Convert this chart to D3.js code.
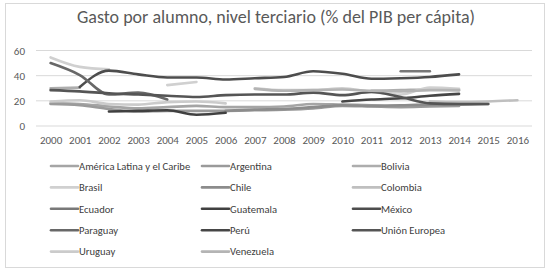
<!DOCTYPE html>
<html>
<head>
<meta charset="utf-8">
<script src="https://cdn.jsdelivr.net/npm/d3@7"></script>
<style>
  body { margin: 0; background: #fff; }
  text { font-family: Carlito, Lato, "Open Sans", sans-serif; fill: #595959; }
</style>
</head>
<body>
<div id="chart"></div>
<script>
const years = [2000, 2001, 2002, 2003, 2004, 2005, 2006, 2007, 2008, 2009, 2010, 2011, 2012, 2013, 2014, 2015, 2016];
const yTicks = [0, 20, 40, 60];

// valores (null = sin dato)
const alc       = [18, 17.5, 15.5, 14, 15, 16, 15, 15, 15.5, 17.5, 17, 16.5, 16, 17, 17.5, null, null];
const argentina = [17.5, 16.5, 13.5, 11.5, 12, 12, 12, 12.5, 13, 14, 16, 15.5, 15, 15.5, 16, null, null];
const bolivia   = [30, 30.5, null, null, null, null, null, null, null, null, null, 28, 28.5, 29, 28.5, null, null];
const brasil    = [54.5, 47, 45, null, 32.5, 35, null, 30, 28.5, 28.5, 30, 27, 25, 30.5, 29.5, null, null];
const chile     = [null, null, null, null, null, null, 12, 13, 13.5, 15, 16.5, 16, 16.5, 17, 17, 17.5, null];
const colombia  = [null, null, null, null, null, null, null, null, null, null, null, null, null, 19.5, 19, 19.5, 20.5];
const ecuador   = [null, null, null, null, null, null, null, null, null, null, null, null, 43.5, 43.5, null, null, null];
const guatemala = [null, null, 11.5, 12, 12.5, 9, 10.5, null, null, null, null, null, null, null, null, null, null];
const mexico    = [null, 31, 44, 41, 38.5, 38.5, 37, 38, 39, 43.5, 41.5, 37.5, 38, 39, 41, null, null];
const paraguay  = [50, 40.5, 25, 26.5, 21, null, null, null, null, null, null, null, null, null, null, null, null];
const peru      = [null, null, null, null, null, null, null, null, null, null, 19.5, 21, 22, 24, 25.5, null, null];
const ue        = [28.5, 27.5, 26, 25, 24, 23, 24.5, 25, 25, 26.5, 24.5, 27, 23, 18, 17.5, 17.5, null];
const uruguay   = [19.5, 20.5, 17.5, 17, 19, 19.5, 18, null, null, null, null, null, null, null, null, null, null];
const venezuela = [null, null, null, null, null, null, null, 29.5, 28, 28.5, 29, 28, 27.5, 28.5, 28.5, null, null];

const series = [
  { name: "América Latina y el Caribe", values: alc,       color: "#a5a5a5" },
  { name: "Argentina",                  values: argentina, color: "#9a9a9a" },
  { name: "Bolivia",                    values: bolivia,   color: "#adadad" },
  { name: "Brasil",                     values: brasil,    color: "#d0d0d0" },
  { name: "Chile",                      values: chile,     color: "#8c8c8c" },
  { name: "Colombia",                   values: colombia,  color: "#bfbfbf" },
  { name: "Ecuador",                    values: ecuador,   color: "#787878" },
  { name: "Guatemala",                  values: guatemala, color: "#404040" },
  { name: "México",                     values: mexico,    color: "#4d4d4d" },
  { name: "Paraguay",                   values: paraguay,  color: "#686868" },
  { name: "Perú",                       values: peru,      color: "#464646" },
  { name: "Unión Europea",              values: ue,        color: "#555555" },
  { name: "Uruguay",                    values: uruguay,   color: "#cbcbcb" },
  { name: "Venezuela",                  values: venezuela, color: "#b4b4b4" }
];

const W = 552, H = 274;
const svg = d3.select("#chart").append("svg")
    .attr("width", W).attr("height", H);

svg.append("rect")
    .attr("x", 5.5).attr("y", 3.5).attr("width", 539).attr("height", 264)
    .attr("fill", "#fff").attr("stroke", "#d9d9d9");

svg.append("text")
    .attr("x", 276).attr("y", 23)
    .attr("text-anchor", "middle")
    .style("font-size", "18px")
    .text("Gasto por alumno, nivel terciario (% del PIB per cápita)");

const x = d3.scalePoint().domain(years).range([36, 532]).padding(0.5);
const y = d3.scaleLinear().domain([0, 60]).range([126, 50.5]);

// grid
svg.append("g").selectAll("line")
  .data(yTicks).enter().append("line")
    .attr("x1", 36).attr("x2", 532)
    .attr("y1", d => y(d)).attr("y2", d => y(d))
    .attr("stroke", "#d9d9d9").attr("stroke-width", 1);

const yAxis = svg.append("g")
    .attr("transform", "translate(36,0)")
    .call(d3.axisLeft(y).tickValues(yTicks).tickSize(0).tickPadding(11));
yAxis.select(".domain").remove();
yAxis.selectAll("text").style("font-size", "11px").style("fill", "#595959");

const xAxis = svg.append("g")
    .attr("transform", "translate(0,126)")
    .call(d3.axisBottom(x).tickSize(0).tickPadding(10));
xAxis.select(".domain").remove();
xAxis.selectAll("text").style("font-size", "11px").style("fill", "#595959");

const line = d3.line()
    .defined(d => d[1] != null)
    .x(d => x(d[0]))
    .y(d => y(d[1]))
    .curve(d3.curveMonotoneX);

svg.append("g").selectAll("path")
  .data(series).enter().append("path")
    .attr("d", s => line(years.map((yr, i) => [yr, s.values[i]])))
    .attr("fill", "none")
    .attr("stroke", s => s.color)
    .attr("stroke-width", 2.6)
    .attr("stroke-linecap", "round")
    .attr("stroke-linejoin", "round");

// leyenda
const colX = [51, 202, 353];
const rowY0 = 166, rowH = 21.4;
const leg = svg.append("g").selectAll("g")
  .data(series).enter().append("g")
    .attr("transform", (d, i) => `translate(${colX[i % 3]},${rowY0 + Math.floor(i / 3) * rowH})`);
leg.append("line")
    .attr("x1", 0).attr("x2", 27)
    .attr("stroke", d => d.color).attr("stroke-width", 2.6)
    .attr("stroke-linecap", "round");
leg.append("text")
    .attr("x", 28).attr("y", 3.8)
    .style("font-size", "10.6px")
    .style("fill", "#404040")
    .text(d => d.name);
</script>
</body>
</html>
